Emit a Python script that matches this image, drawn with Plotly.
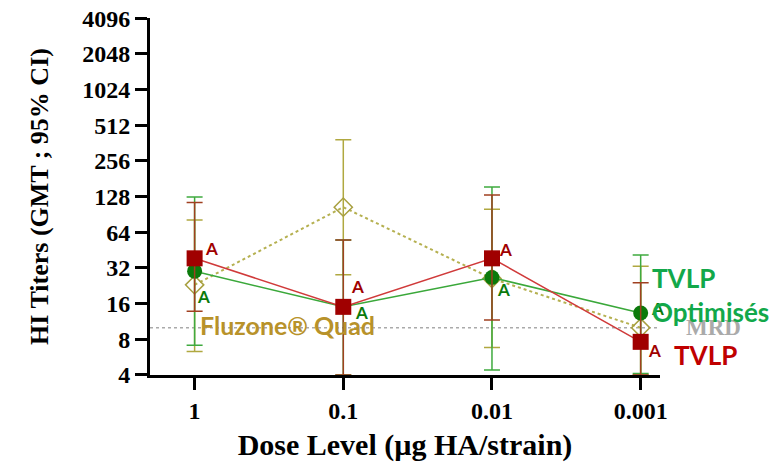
import math
import plotly.graph_objects as go

doses = ["1", "0.1", "0.01", "0.001"]
xpos = [0, 1, 2, 3]

tvlp_gmt = [38.5, 15, 38.5, 7.6]
tvlp_hi = [114, 55, 132, 24]
tvlp_lo = [13.8, 4, 11.6, 4]

opt_gmt = [30, 15, 26.5, 13.3]
opt_hi = [127, 55, 154, 41]
opt_lo = [7.1, 4, 4.4, 4.1]

flu_gmt = [23, 104, 26, 10]
flu_hi = [81, 385, 100, 33]
flu_lo = [6.3, 28, 6.8, 4]

mrd = 10
ytickvals = [4, 8, 16, 32, 64, 128, 256, 512, 1024, 2048, 4096]

# pixel offsets of the "A" letters from their points (layout only)
red_a_shift = [(17, 10), (14, 20), (14, 9), (14, -9)]
green_a_shift = [(9, -25), (18, -6), (12, -12), (17, 5)]

def err(vals, hi, lo):
    return dict(type="data", symmetric=False,
                array=[h - v for h, v in zip(hi, vals)],
                arrayminus=[v - l for v, l in zip(vals, lo)])

L = math.log10

fig = go.Figure()

# MRD line
fig.add_trace(go.Scatter(x=[-0.3, 3.13], y=[mrd, mrd], mode="lines",
                         line=dict(color="#AAAAAA", width=1.5, dash="dot"),
                         hoverinfo="skip", showlegend=False))

fig.add_trace(go.Scatter(
    x=xpos, y=flu_gmt, mode="lines+markers", showlegend=False,
    line=dict(color="#B5B050", width=2, dash="dot"),
    marker=dict(symbol="diamond-open", size=14, color="#A8A040", line=dict(width=1.5)),
    error_y=dict(**err(flu_gmt, flu_hi, flu_lo), color="#B0A840", thickness=1.5, width=8)))

fig.add_trace(go.Scatter(
    x=xpos, y=opt_gmt, mode="lines+markers", showlegend=False,
    line=dict(color="#3AA83A", width=1.5),
    marker=dict(symbol="circle", size=15, color="#0B7A0B"),
    error_y=dict(**err(opt_gmt, opt_hi, opt_lo), color="#3FAA3F", thickness=1.5, width=8)))

fig.add_trace(go.Scatter(
    x=xpos, y=tvlp_gmt, mode="lines+markers", showlegend=False,
    line=dict(color="#D03A3A", width=1.5),
    marker=dict(symbol="square", size=16, color="#A00000"),
    error_y=dict(**err(tvlp_gmt, tvlp_hi, tvlp_lo), color="#A04020", thickness=1.5, width=8)))

anns = []
for x, y, (dx, dy) in zip(xpos, tvlp_gmt, red_a_shift):
    anns.append(dict(x=x, y=L(y), xref="x", yref="y", text="<b>A</b>", showarrow=False,
                     xshift=dx, yshift=dy, font=dict(family="Lato", size=17, color="#A00000")))
for x, y, (dx, dy) in zip(xpos, opt_gmt, green_a_shift):
    anns.append(dict(x=x, y=L(y), xref="x", yref="y", text="<b>A</b>", showarrow=False,
                     xshift=dx, yshift=dy, font=dict(family="Lato", size=17, color="#0B7A0B")))

anns += [
    dict(x=0.023, y=L(mrd), xref="x", yref="y", text="<b>Fluzone® Quad</b>", showarrow=False,
         xanchor="left", yshift=3, font=dict(family="Lato", size=25, color="#B8922A")),
    dict(x=1.047, y=0.132, xref="paper", yref="paper", text="<b>MRD</b>", showarrow=False,
         xanchor="left", yanchor="middle",
         font=dict(family="Liberation Serif", size=23, color="#AAAAAA")),
    dict(x=0.98, y=0.272, xref="paper", yref="paper", text="<b>TVLP</b>", showarrow=False,
         xanchor="left", yanchor="middle", font=dict(family="Lato", size=26, color="#12A84A")),
    dict(x=0.98, y=0.176, xref="paper", yref="paper", text="<b>Optimisés</b>", showarrow=False,
         xanchor="left", yanchor="middle", font=dict(family="Lato", size=26, color="#12A84A")),
    dict(x=1.024, y=0.056, xref="paper", yref="paper", text="<b>TVLP</b>", showarrow=False,
         xanchor="left", yanchor="middle", font=dict(family="Lato", size=26, color="#C00000")),
]

fig.update_layout(
    width=777, height=465, plot_bgcolor="white", paper_bgcolor="white",
    margin=dict(l=142, r=125, t=10, b=98),
    annotations=anns, showlegend=False,
    font=dict(family="Liberation Serif", color="black"),
)
fig.update_xaxes(range=[-0.3, 3.13], tickvals=xpos, ticktext=["<b>%s</b>" % d for d in doses],
                 showline=True, linecolor="black", linewidth=3, ticks="outside", ticklen=12,
                 tickwidth=3, tickcolor="black", showgrid=False, zeroline=False, automargin=False,
                 ticklabeloverflow="allow",
                 tickfont=dict(family="Liberation Serif", size=24),
                 title=dict(text="<b>Dose Level (µg HA/strain)</b>", standoff=12,
                            font=dict(family="Liberation Serif", size=30)))
fig.update_yaxes(type="log", range=[L(4) - 0.001, L(4096) + 0.001], tickvals=ytickvals,
                 ticktext=["<b>%d</b>" % v for v in ytickvals],
                 showline=True, linecolor="black", linewidth=3, ticks="outside", ticklen=12,
                 tickwidth=3, tickcolor="black", showgrid=False, zeroline=False, automargin=False,
                 ticklabeloverflow="allow",
                 tickfont=dict(family="Liberation Serif", size=24),
                 title=dict(text="<b>HI Titers (GMT ; 95% CI)</b>", standoff=27,
                            font=dict(family="Liberation Serif", size=26)))

fig.write_html("out.html")
